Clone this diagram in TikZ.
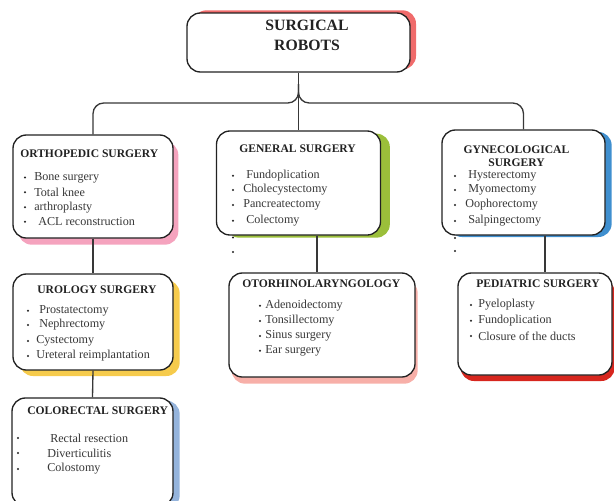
\documentclass[tikz,border=0pt]{standalone}
\usepackage{fontspec}
\setmainfont{Liberation Serif}
\usetikzlibrary{shadows}
\definecolor{topred}{HTML}{F06B6B}
\definecolor{orthpink}{HTML}{F5A3BE}
\definecolor{gengreen}{HTML}{9BBF3A}
\definecolor{gynblue}{HTML}{3F8FCF}
\definecolor{uroyellow}{HTML}{F6CB4C}
\definecolor{otopink}{HTML}{F7AFA8}
\definecolor{pedred}{HTML}{D7261E}
\definecolor{colblue}{HTML}{95B4DC}
\definecolor{ink}{HTML}{222222}
\tikzset{
  box/.style={draw=ink, line width=1pt, rounded corners=10pt, fill=white},
  sz/.style 2 args={minimum width=#1*0.75pt, minimum height=#2*0.75pt},
  shad/.style n args={3}{drop shadow={shadow xshift=#1, shadow yshift=#2, fill=#3, opacity=1}},
  conn/.style={draw=ink!90, line width=1pt},
  head/.style={inner sep=0pt, text=ink, font=\fontsize{8.7}{10}\selectfont\bfseries},
  itemtxt/.style={inner sep=0pt, anchor=west, text=ink!90, font=\fontsize{9.1}{10}\selectfont},
  bul/.style={fill=ink}
}
\newcommand\itm[5]{\fill[bul] (#1,#3) circle[radius=0.85pt]; \node[itemtxt] (#5) at (#2,#3) {#4};}
\begin{document}
\begin{tikzpicture}[x=0.75pt,y=-0.75pt]
\useasboundingbox (0,0) rectangle (614,500);
% boxes
\node[box, sz={223}{59}, shad={4.5pt}{2pt}{topred}] (top) at (298.5,42.5) {};
\node[box, sz={160}{103}, shad={4pt}{-5pt}{orthpink}] (orth) at (93,186.5) {};
\node[box, sz={164}{104}, shad={7pt}{-2pt}{gengreen}] (gen) at (298.5,183) {};
\node[box, sz={163}{105}, shad={5pt}{-1.5pt}{gynblue}] (gyn) at (523.5,182.5) {};
\node[box, sz={160}{96}, shad={5pt}{-4.5pt}{uroyellow}] (uro) at (93,322) {};
\node[box, sz={186}{104}, shad={2pt}{-5pt}{otopink}] (oto) at (322,325) {};
\node[box, sz={154}{102}, shad={2pt}{-4.5pt}{pedred}] (ped) at (535,324) {};
\node[box, sz={161}{108}, shad={5pt}{-2pt}{colblue}] (col) at (92.5,452) {};
% connectors
\coordinate (tj) at (298.5,84);
\coordinate (hy) at (0,103);
\coordinate (xg) at (317,0);
\coordinate (xp) at (545,0);
\draw[conn] (top.south) -- (top.south |- gen.north);
\draw[conn, rounded corners=8pt] (tj) |- (hy -| orth.north) -- (orth.north);
\draw[conn, rounded corners=8pt] (tj) |- (hy -| gyn.north) -- (gyn.north);
\draw[conn] (orth.south) -- (uro.north);
\draw[conn] (uro.south) -- (col.north);
\draw[conn] (gen.south -| xg) -- (oto.north -| xg);
\draw[conn] (gyn.south -| xp) -- (ped.north -| xp);
% titles
\node[inner sep=0pt, text=ink, align=center, font=\fontsize{11.8}{15}\selectfont\bfseries] (tt) at (307,35) {SURGICAL\\ROBOTS};
\node[head, anchor=west] (ho) at (20,154) {ORTHOPEDIC SURGERY};
\node[head, anchor=west] (hg) at (239,149) {GENERAL SURGERY};
\node[head, align=center] (hy1) at (516.5,156) {GYNECOLOGICAL\\SURGERY};
\node[head, anchor=west] (hu) at (37,290) {UROLOGY SURGERY};
\node[head, anchor=west] (hot) at (242,284) {OTORHINOLARYNGOLOGY};
\node[head, anchor=west] (hp) at (476,284) {PEDIATRIC SURGERY};
\node[head, anchor=west] (hc) at (27,411) {COLORECTAL SURGERY};
% items
\itm{25}{34}{177.5}{Bone surgery}{o1}
\itm{25}{34}{192.3}{Total knee}{o2}
\itm{25}{34}{207.3}{arthroplasty}{o3}
\itm{25}{38}{221.7}{ACL reconstruction}{o4}
\itm{233}{246}{175.7}{Fundoplication}{g1}
\itm{233}{243}{190}{Cholecystectomy}{g2}
\itm{233}{243}{205}{Pancreatectomy}{g3}
\itm{233}{246}{220.7}{Colectomy}{g4}
\fill[bul] (233,237.5) circle[radius=0.85pt];
\fill[bul] (233,252) circle[radius=0.85pt];
\itm{455}{468}{176}{Hysterectomy}{y1}
\itm{455}{468}{190}{Myomectomy}{y2}
\itm{455}{465}{205}{Oophorectomy}{y3}
\itm{455}{468}{221}{Salpingectomy}{y4}
\fill[bul] (455,238) circle[radius=0.85pt];
\fill[bul] (455,251) circle[radius=0.85pt];
\itm{28}{39}{310.7}{Prostatectomy}{u1}
\itm{28}{39}{325}{Nephrectomy}{u2}
\itm{28}{36}{341}{Cystectomy}{u3}
\itm{28}{36}{356}{Ureteral reimplantation}{u4}
\itm{260}{265}{305.7}{Adenoidectomy}{t1}
\itm{260}{265}{321}{Tonsillectomy}{t2}
\itm{260}{265}{336}{Sinus surgery}{t3}
\itm{260}{265}{350.7}{Ear surgery}{t4}
\itm{471}{478}{305}{Pyeloplasty}{p1}
\itm{471}{478}{320.7}{Fundoplication}{p2}
\itm{471}{478}{336}{Closure of the ducts}{p3}
\itm{18}{50}{438}{Rectal resection}{c1}
\itm{18}{47}{453}{Diverticulitis}{c2}
\itm{18}{47}{469}{Colostomy}{c3}
\end{tikzpicture}
\end{document}
